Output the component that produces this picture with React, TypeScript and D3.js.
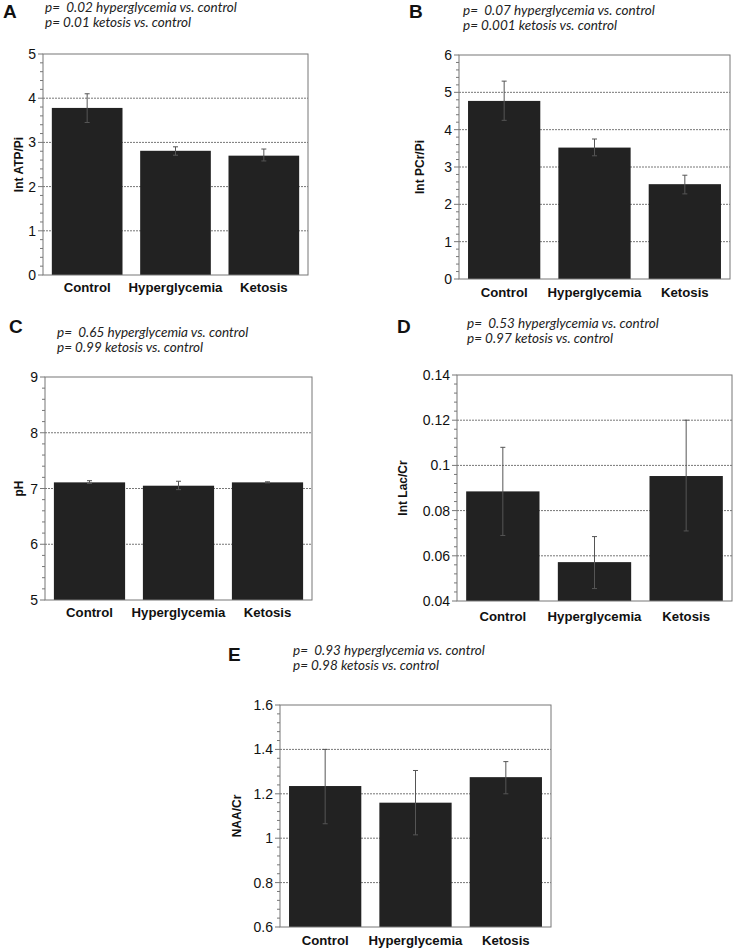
import React from "react";
import * as d3 from "d3";

const categories = ["Control", "Hyperglycemia", "Ketosis"];

const atpMean = [3.78, 2.81, 2.7];
const atpHi = [4.1, 2.9, 2.85];
const atpLo = [3.45, 2.71, 2.58];

const pcrMean = [4.77, 3.52, 2.54];
const pcrHi = [5.3, 3.75, 2.78];
const pcrLo = [4.25, 3.3, 2.28];

const phMean = [7.11, 7.05, 7.11];
const phHi = [7.14, 7.13, 7.12];
const phLo = [7.09, 6.98, 7.1];

const lacMean = [0.0885, 0.0572, 0.0953];
const lacHi = [0.108, 0.0685, 0.12];
const lacLo = [0.069, 0.0455, 0.071];

const naaMean = [1.235, 1.16, 1.275];
const naaHi = [1.4, 1.305, 1.345];
const naaLo = [1.065, 1.015, 1.2];

const panelLetters = ["A", "B", "C", "D", "E"];
const yLabels = ["Int ATP/Pi", "Int PCr/Pi", "pH", "Int Lac/Cr", "NAA/Cr"];
const pLine1 = [
  "p=  0.02 hyperglycemia vs. control",
  "p=  0.07 hyperglycemia vs. control",
  "p=  0.65 hyperglycemia vs. control",
  "p=  0.53 hyperglycemia vs. control",
  "p=  0.93 hyperglycemia vs. control",
];
const pLine2 = [
  "p= 0.01 ketosis vs. control",
  "p= 0.001 ketosis vs. control",
  "p= 0.99 ketosis vs. control",
  "p= 0.97 ketosis vs. control",
  "p= 0.98 ketosis vs. control",
];
const yDomains: [number, number][] = [[0, 5], [0, 6], [5, 9], [0.04, 0.14], [0.6, 1.6]];
const yMajorTicks = [
  [0, 1, 2, 3, 4, 5],
  [0, 1, 2, 3, 4, 5, 6],
  [5, 6, 7, 8, 9],
  [0.04, 0.06, 0.08, 0.1, 0.12, 0.14],
  [0.6, 0.8, 1, 1.2, 1.4, 1.6],
];
const yTickLabels = [
  ["0", "1", "2", "3", "4", "5"],
  ["0", "1", "2", "3", "4", "5", "6"],
  ["5", "6", "7", "8", "9"],
  ["0.04", "0.06", "0.08", "0.1", "0.12", "0.14"],
  ["0.6", "0.8", "1", "1.2", "1.4", "1.6"],
];

const series = [
  { mean: atpMean, hi: atpHi, lo: atpLo },
  { mean: pcrMean, hi: pcrHi, lo: pcrLo },
  { mean: phMean, hi: phHi, lo: phLo },
  { mean: lacMean, hi: lacHi, lo: lacLo },
  { mean: naaMean, hi: naaHi, lo: naaLo },
];

// layout (pixels)
const layout = [
  { l: 43, r: 308, t: 54, b: 275, letterX: 3, letterY: 18, pX: 45, pY: 12, ylX: 23, xlOff: 17 },
  { l: 459, r: 730, t: 55, b: 279, letterX: 409, letterY: 18, pX: 463, pY: 15, ylX: 424, xlOff: 18 },
  { l: 45, r: 312, t: 377, b: 600, letterX: 9, letterY: 333, pX: 57, pY: 337, ylX: 23, xlOff: 17 },
  { l: 457, r: 732, t: 375, b: 601, letterX: 397, letterY: 333, pX: 467, pY: 328, ylX: 407, xlOff: 20 },
  { l: 280, r: 551, t: 705, b: 927, letterX: 228, letterY: 661, pX: 293, pY: 655, ylX: 241, xlOff: 18 },
];

const SANS = "'Liberation Sans', Arial, Helvetica, sans-serif";
const ITAL = "Lato, 'Open Sans', sans-serif";

function Panel({ i }: { i: number }) {
  const L = layout[i];
  const s = series[i];
  const dom = yDomains[i];
  const y = d3.scaleLinear().domain(dom).range([L.b, L.t]);
  const x = d3.scaleBand().domain(categories).range([L.l, L.r]).paddingInner(0.2).paddingOuter(0.1);
  const majors = yMajorTicks[i];
  const step = (majors[1] - majors[0]) / 5;
  const minors: number[] = [];
  for (let k = 0; k < majors.length - 1; k++) {
    for (let m = 1; m < 5; m++) minors.push(majors[k] + step * m);
  }
  const cy = (L.t + L.b) / 2;
  return (
    <g>
      <text x={L.letterX} y={L.letterY} fontFamily={SANS} fontWeight="bold" fontSize={19} fill="#111">
        {panelLetters[i]}
      </text>
      <text x={L.pX} y={L.pY} fontFamily={ITAL} fontStyle="italic" fontSize={13.5} fill="#222" style={{ whiteSpace: "pre" }}>
        {pLine1[i]}
      </text>
      <text x={L.pX} y={L.pY + 15} fontFamily={ITAL} fontStyle="italic" fontSize={13.5} fill="#222" style={{ whiteSpace: "pre" }}>
        {pLine2[i]}
      </text>
      {/* gridlines */}
      {majors.slice(1, -1).map((v) => (
        <line key={"g" + v} x1={L.l} x2={L.r} y1={y(v)} y2={y(v)} stroke="#777" strokeWidth={1} strokeDasharray="2,1" />
      ))}
      {/* bars */}
      {categories.map((c, j) => (
        <rect key={c} x={x(c)} y={y(s.mean[j])} width={x.bandwidth()} height={L.b - y(s.mean[j])} fill="#222" />
      ))}
      {/* error bars */}
      {categories.map((c, j) => {
        const cx = (x(c) as number) + x.bandwidth() / 2;
        return (
          <g key={"e" + c} stroke="#555" strokeWidth={1}>
            <line x1={cx} x2={cx} y1={y(s.hi[j])} y2={y(s.lo[j])} />
            <line x1={cx - 2.5} x2={cx + 2.5} y1={y(s.hi[j])} y2={y(s.hi[j])} />
            <line x1={cx - 2.5} x2={cx + 2.5} y1={y(s.lo[j])} y2={y(s.lo[j])} />
          </g>
        );
      })}
      {/* frame */}
      <rect x={L.l} y={L.t} width={L.r - L.l} height={L.b - L.t} fill="none" stroke="#777" strokeWidth={1} />
      {/* ticks */}
      {majors.map((v) => (
        <line key={"t" + v} x1={L.l - 5} x2={L.l} y1={y(v)} y2={y(v)} stroke="#777" strokeWidth={1} />
      ))}
      {minors.map((v, k) => (
        <line key={"m" + k} x1={L.l - 3} x2={L.l} y1={y(v)} y2={y(v)} stroke="#777" strokeWidth={1} />
      ))}
      {majors.map((v, k) => (
        <text key={"l" + v} x={L.l - 7} y={y(v)} dy="0.36em" textAnchor="end" fontFamily={SANS} fontSize={14} fill="#111">
          {yTickLabels[i][k]}
        </text>
      ))}
      {categories.map((c) => (
        <text key={"x" + c} x={(x(c) as number) + x.bandwidth() / 2} y={L.b + L.xlOff} textAnchor="middle" fontFamily={SANS} fontWeight="bold" fontSize={13.2} fill="#111">
          {c}
        </text>
      ))}
      <text transform={`translate(${L.ylX},${cy}) rotate(-90)`} textAnchor="middle" fontFamily={SANS} fontWeight="bold" fontSize={12} fill="#111">
        {yLabels[i]}
      </text>
    </g>
  );
}

export default function App() {
  return (
    <svg width={734} height={949} style={{ position: "absolute", left: 0, top: 0, background: "#fff" }}>
      <rect width={734} height={949} fill="#fff" />
      {[0, 1, 2, 3, 4].map((i) => (
        <Panel key={i} i={i} />
      ))}
    </svg>
  );
}
